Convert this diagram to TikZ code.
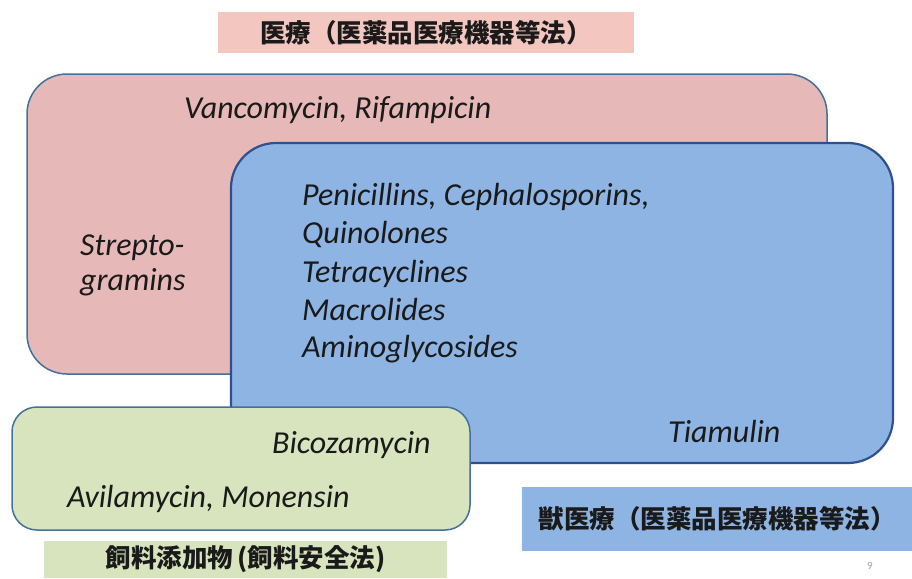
\documentclass[tikz,border=0pt]{standalone}
\usepackage{fontspec}
\setmainfont{Carlito}
\newfontfamily\cjk{Noto Sans CJK JP}
\definecolor{pinkfill}{HTML}{E6B9B8}
\definecolor{bluefill}{HTML}{8EB4E3}
\definecolor{greenfill}{HTML}{D7E4BD}
\definecolor{pinklabel}{HTML}{F3C6C0}
\definecolor{thinedge}{HTML}{41719C}
\definecolor{thickedge}{HTML}{2F4F8F}
\definecolor{txt}{HTML}{1A1A1A}
\definecolor{pagenum}{HTML}{A0A0A0}
\tikzset{
  setbox/.style={draw=thinedge, line width=1.5pt, inner sep=0pt},
  labelbox/.style={inner sep=0pt, font=\cjk\bfseries\fontsize{25.5}{30}\selectfont, text=txt},
  item/.style={anchor=base west, inner sep=0pt, font=\itshape\fontsize{32}{38}\selectfont, text=txt},
}
\begin{document}
\begin{tikzpicture}[x=1pt,y=-1pt]
\useasboundingbox (0,0) rectangle (912,578);
% set boxes
\node[setbox, fill=pinkfill, minimum width=800pt, minimum height=300pt, rounded corners=40pt] (medbox) at (427,224) {};
\node[setbox, fill=bluefill, draw=thickedge, line width=2.2pt, minimum width=662pt, minimum height=320pt, rounded corners=45pt] (vetbox) at (562,303) {};
\node[setbox, fill=greenfill, minimum width=458pt, minimum height=123pt, rounded corners=25pt] (feedbox) at (241,468.5) {};
% labels
\node[labelbox, fill=pinklabel, minimum width=416pt, minimum height=41pt] (medlabel) at (426,32.5) {医療（医薬品医療機器等法）};
\node[labelbox, fill=greenfill, minimum width=403pt, minimum height=37pt] (feedlabel) at (245.5,559.5) {飼料添加物\,(飼料安全法)};
\node[labelbox, fill=bluefill, minimum width=390pt, minimum height=64pt] (vetlabel) at (717,519) {獣医療（医薬品医療機器等法）};
% items
\node[item] (vanco) at (184,118) {Vancomycin, Rifampicin};
\node[item] (strep1) at (80,255) {Strepto-};
\node[item] (strep2) at (80,290) {gramins};
\node[item] (peni) at (302,205) {Penicillins, Cephalosporins,};
\node[item] (quino) at (302,243) {Quinolones};
\node[item] (tetra) at (302,282) {Tetracyclines};
\node[item] (macro) at (302,320) {Macrolides};
\node[item] (amino) at (302,357) {Aminoglycosides};
\node[item] (tiam) at (668,442) {Tiamulin};
\node[item] (bicoz) at (272,453) {Bicozamycin};
\node[item] (avila) at (67,507) {Avilamycin, Monensin};
\node[inner sep=0pt, font=\fontsize{11}{12}\selectfont, text=pagenum] (pnum) at (870,566) {9};
\end{tikzpicture}
\end{document}
